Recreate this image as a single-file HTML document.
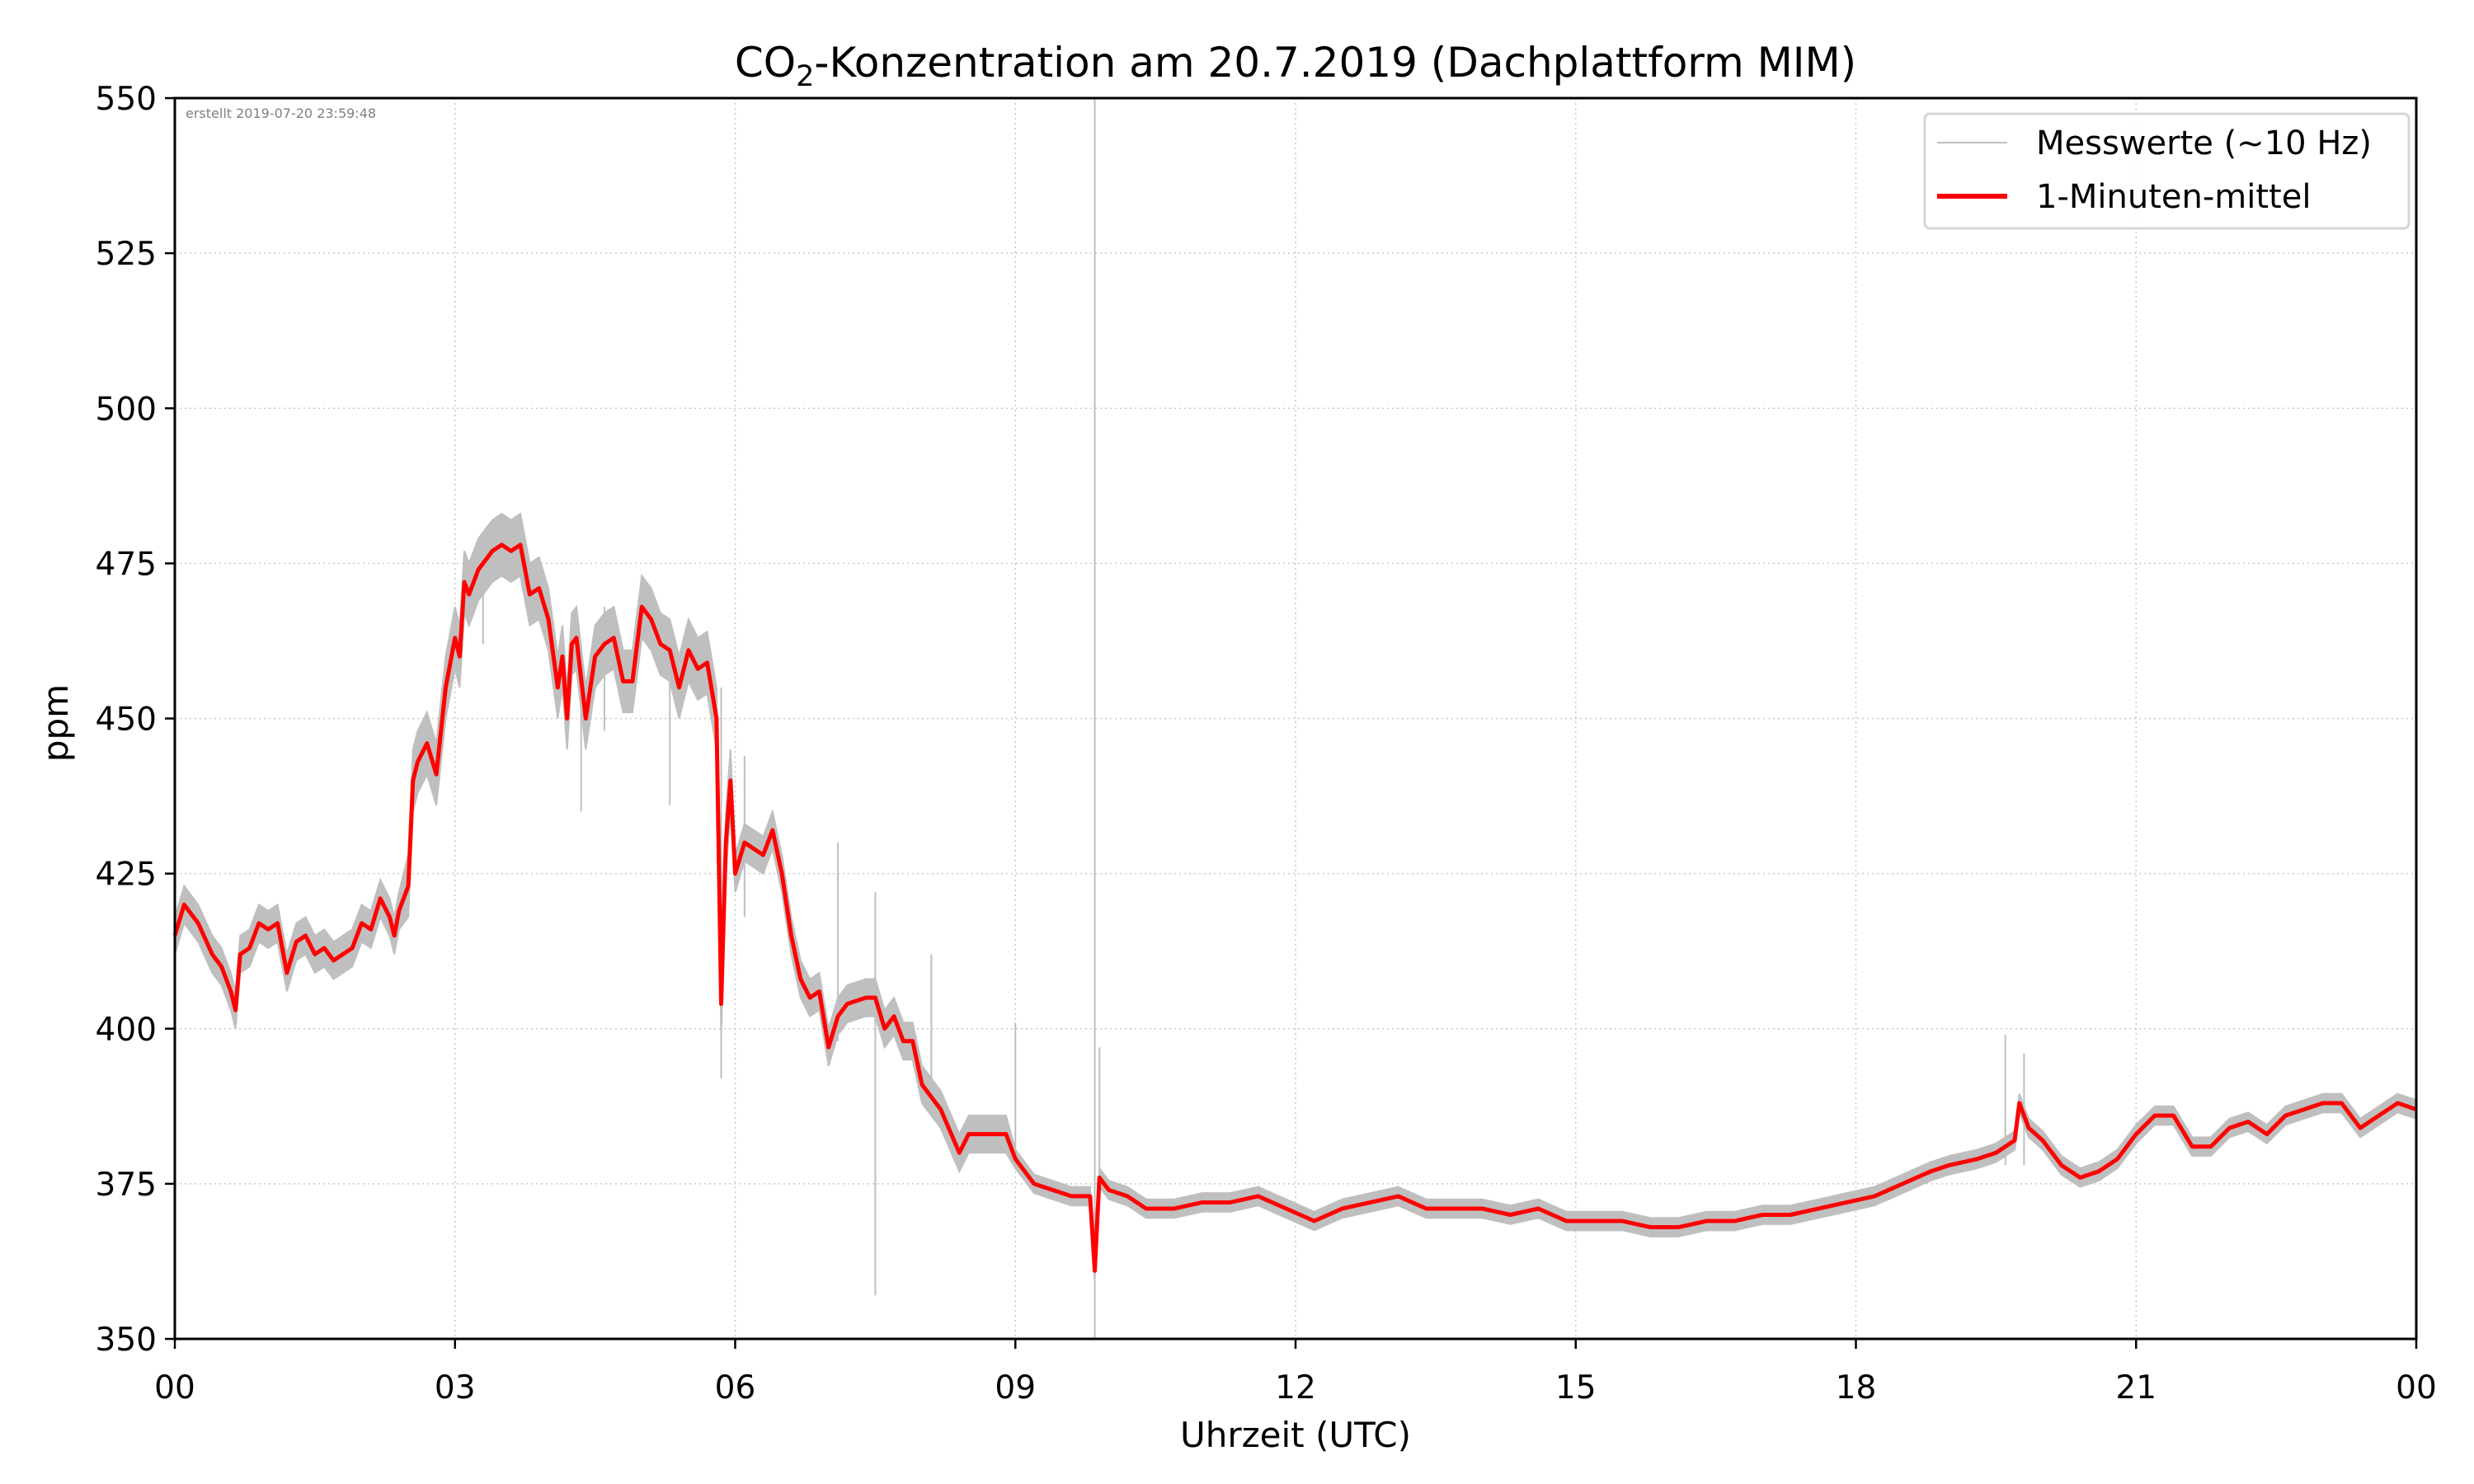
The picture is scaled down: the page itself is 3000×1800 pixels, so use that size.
<!DOCTYPE html>
<html><head><meta charset="utf-8"><style>
body{margin:0;background:#fff}
svg{display:block;font-family:"DejaVu Sans","Liberation Sans",sans-serif}
</style></head><body>
<svg id="chart" width="3000" height="1800" viewBox="0 0 3000 1800">
<rect width="3000" height="1800" fill="#fff"/>
<g id="grid"></g>
<g id="grey"></g>
<g id="red"></g>
<rect x="212" y="119" width="2718" height="1505" fill="none" stroke="#000" stroke-width="3"/>
<g id="axes"></g>
<text x="1571" y="93" font-size="50" text-anchor="middle">CO<tspan font-size="35" dy="11">2</tspan><tspan dy="-11">-Konzentration am 20.7.2019 (Dachplattform MIM)</tspan></text>
<text x="1571" y="1755" font-size="42" text-anchor="middle">Uhrzeit (UTC)</text>
<text x="82" y="877" font-size="42" text-anchor="middle" transform="rotate(-90 82 877)">ppm</text>
<text x="225" y="143" font-size="16" fill="#808080">erstellt 2019-07-20 23:59:48</text>
<g>
<rect x="2334" y="138" width="587" height="139" rx="6" fill="#fff" fill-opacity="0.8" stroke="#d6d6d6" stroke-width="3"/>
<line x1="2349" y1="173" x2="2434" y2="173" stroke="#bfbfbf" stroke-width="2"/>
<text x="2469" y="187" font-size="40">Messwerte (~10 Hz)</text>
<line x1="2349" y1="238" x2="2434" y2="238" stroke="#f00" stroke-width="6"/>
<text x="2469" y="252" font-size="40">1-Minuten-mittel</text>
</g>
</svg>
<script>
const times=[0,0.1,0.25,0.4,0.5,0.6,0.65,0.7,0.8,0.9,1.0,1.1,1.2,1.3,1.4,1.5,1.6,1.7,1.8,1.9,2.0,2.1,2.2,2.3,2.35,2.4,2.5,2.55,2.6,2.7,2.8,2.9,3.0,3.05,3.1,3.15,3.25,3.4,3.5,3.6,3.7,3.8,3.9,4.0,4.1,4.15,4.2,4.25,4.3,4.4,4.5,4.6,4.7,4.8,4.9,5.0,5.1,5.2,5.3,5.4,5.5,5.6,5.7,5.8,5.85,5.9,5.95,6.0,6.1,6.3,6.4,6.5,6.6,6.7,6.8,6.9,7.0,7.1,7.2,7.4,7.5,7.6,7.7,7.8,7.9,8.0,8.2,8.4,8.5,8.7,8.9,9.0,9.2,9.4,9.6,9.8,9.85,9.9,10.0,10.2,10.4,10.7,11.0,11.3,11.6,11.9,12.2,12.5,12.8,13.1,13.4,13.7,14.0,14.3,14.6,14.9,15.2,15.5,15.8,16.1,16.4,16.7,17.0,17.3,17.6,17.9,18.2,18.5,18.8,19.0,19.3,19.5,19.7,19.75,19.85,20.0,20.2,20.4,20.6,20.8,21.0,21.2,21.4,21.6,21.8,22.0,22.2,22.4,22.6,22.8,23.0,23.2,23.4,23.6,23.8,24.0];
const meanValues=[415,420,417,412,410,406,403,412,413,417,416,417,409,414,415,412,413,411,412,413,417,416,421,418,415,419,423,440,443,446,441,455,463,460,472,470,474,477,478,477,478,470,471,466,455,460,450,462,463,450,460,462,463,456,456,468,466,462,461,455,461,458,459,450,404,430,440,425,430,428,432,425,415,408,405,406,397,402,404,405,405,400,402,398,398,391,387,380,383,383,383,379,375,374,373,373,361,376,374,373,371,371,372,372,373,371,369,371,372,373,371,371,371,370,371,369,369,369,368,368,369,369,370,370,371,372,373,375,377,378,379,380,382,388,384,382,378,376,377,379,383,386,386,381,381,384,385,383,386,387,388,388,384,386,388,387];
const spikeTimes=[5.85,7.5,9.0,9.9,19.6,19.8,7.1,4.35,3.3,4.6,5.3,6.1,8.1];
const spikeLow=[392,357,380,372,378,378,398,435,462,448,436,418,390];
const spikeHigh=[455,422,401,397,399,396,430,462,479,468,466,444,412];
const yTicks=[350,375,400,425,450,475,500,525,550];
const xTicks=[0,3,6,9,12,15,18,21,24];
const xTickLabels=["00","03","06","09","12","15","18","21","00"];
const spread=[];
for(const t of times){spread.push(t<2.5?3:t<6?5:t<9?3:1.5);} // band half-width per region
const L=212,R=2930,T=119,B=1624;
const X=h=>L+(R-L)*h/24, Y=v=>B-(B-T)*(v-350)/200;
const ns="http://www.w3.org/2000/svg";
function mk(tag,attrs,parent){const e=document.createElementNS(ns,tag);for(const k in attrs)e.setAttribute(k,attrs[k]);parent.appendChild(e);return e;}
const grid=document.getElementById('grid'),axes=document.getElementById('axes');
yTicks.forEach(v=>{
 const g=mk('line',{x1:L,x2:R,y1:Y(v),y2:Y(v),stroke:'#c8c8c8','stroke-width':1.5,'stroke-dasharray':'2,4'},grid);
 
 
 const tk=mk('line',{x1:L-12,x2:L,y1:Y(v),y2:Y(v),stroke:'#000','stroke-width':2.5},axes);
 
 
 const tx=mk('text',{x:L-22,y:Y(v)+14,'font-size':39,'text-anchor':'end'},axes);
 tx.textContent=v;
 
 
});
xTicks.forEach((h,i)=>{
 const g=mk('line',{x1:X(h),x2:X(h),y1:T,y2:B,stroke:'#c8c8c8','stroke-width':1.5,'stroke-dasharray':'2,4'},grid);
 
 
 const tk=mk('line',{x1:X(h),x2:X(h),y1:B,y2:B+12,stroke:'#000','stroke-width':2.5},axes);
 
 
 const tx=mk('text',{x:X(h),y:B+72,'font-size':39,'text-anchor':'middle'},axes);
 tx.textContent=xTickLabels[i];
 
 
});
const grey=document.getElementById('grey');
let up=[],dn=[];
times.forEach((t,i)=>{up.push(X(t)+','+Y(meanValues[i]+spread[i]));dn.unshift(X(t)+','+Y(meanValues[i]-spread[i]));});
const band=mk('polygon',{points:up.concat(dn).join(' '),fill:'#bfbfbf',stroke:'#bfbfbf','stroke-width':2},grey);


spikeTimes.forEach((t,i)=>{
 const s=mk('line',{x1:X(t),x2:X(t),y1:Y(spikeLow[i]),y2:Y(spikeHigh[i]),stroke:'#bfbfbf','stroke-width':2},grey);
 
 
});
const full=mk('line',{x1:X(9.85),x2:X(9.85),y1:T,y2:B,stroke:'#bfbfbf','stroke-width':2},grey);


const red=document.getElementById('red');
const pl=mk('polyline',{points:times.map((t,i)=>X(t)+','+Y(meanValues[i])).join(' '),fill:'none',stroke:'#f00','stroke-width':5,'stroke-linejoin':'round'},red);


</script>
</body></html>
